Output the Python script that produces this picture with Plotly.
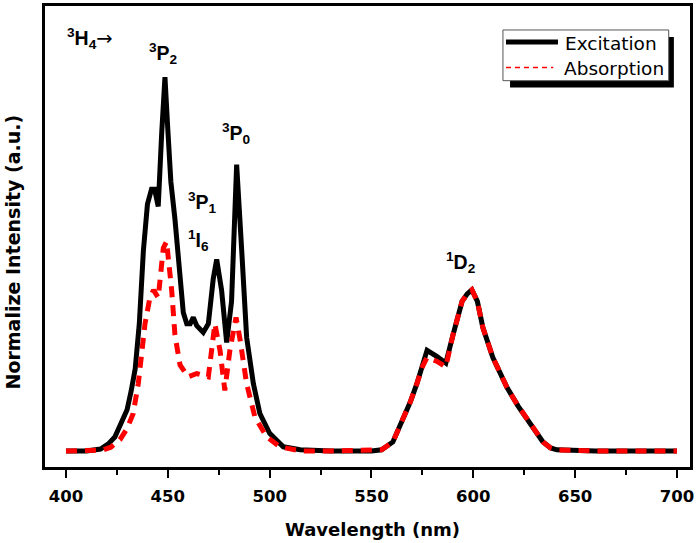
import plotly.graph_objects as go

# ---- data ----
wl_exc = [400, 410, 417, 421, 424, 427, 430, 432, 434, 436, 438, 440, 442, 443.5, 445.3, 447, 448.6, 450,
          451.5, 453.5, 456, 457.6, 459.3, 461, 462.5, 464.2, 467.4, 469.9, 472.3, 474, 476.4, 478.9, 481.3,
          483.8, 486.3, 488.7, 492, 495.2, 500, 506.7, 515, 530, 550, 555, 560.5, 565.4, 569, 572.3, 575,
          576.2, 577.3, 582, 586.5, 590, 594.5, 597, 599.3, 602, 604.7, 609.6, 616.5, 622, 627.8, 631, 634.2,
          638, 641, 660, 680, 700]
excitation = [0, 0, 0.005, 0.02, 0.037, 0.07, 0.11, 0.16, 0.22, 0.34, 0.535, 0.66, 0.70, 0.70, 0.654, 0.85,
              1.0, 0.86, 0.72, 0.62, 0.46, 0.37, 0.34, 0.34, 0.357, 0.335, 0.317, 0.34, 0.46, 0.512, 0.43,
              0.29, 0.40, 0.766, 0.535, 0.304, 0.18, 0.10, 0.047, 0.011, 0.003, 0.0, 0.0, 0.003, 0.024, 0.082,
              0.13, 0.18, 0.225, 0.242, 0.269, 0.253, 0.235, 0.31, 0.40, 0.42, 0.431, 0.40, 0.33, 0.25, 0.17,
              0.12, 0.075, 0.05, 0.024, 0.008, 0.003, 0, 0, 0]

wl_abs = [400, 410, 418, 422, 426.5, 430, 433, 435.5, 437.2, 438.8, 441.2, 443, 445.3, 447.8, 449.4, 451,
          451.9, 453.5, 456, 460, 464.2, 469.9, 473.1, 475.6, 478, 480.5, 483.5, 485.4, 488.7, 492.8, 498.5,
          505, 515, 530, 550, 555, 560.5, 565.4, 569, 572.3, 575, 577.3, 582, 586.5, 590, 594.5, 597, 599.3,
          602, 604.7, 609.6, 616.5, 622, 627.8, 631, 634.2, 638, 641, 660, 680, 700]
absorption = [0, 0, 0.002, 0.01, 0.03, 0.06, 0.10, 0.18, 0.27, 0.34, 0.41, 0.43, 0.41, 0.543, 0.56, 0.48,
              0.43, 0.31, 0.23, 0.198, 0.207, 0.198, 0.34, 0.27, 0.162, 0.27, 0.357, 0.30, 0.18, 0.09, 0.038,
              0.011, 0, 0, 0, 0.003, 0.024, 0.082, 0.13, 0.18, 0.225, 0.25, 0.24, 0.225, 0.31, 0.40, 0.42,
              0.431, 0.40, 0.33, 0.25, 0.17, 0.12, 0.075, 0.05, 0.024, 0.008, 0.003, 0, 0, 0]

series_names = ["Excitation", "Absorption"]
tick_vals = [400, 450, 500, 550, 600, 650, 700]

ARROW = "<span style='font-family:DejaVu Sans'>→</span>"
labels = [
    ("<b><sup>3</sup>H<sub>4</sub></b>" + ARROW, 399.5, 1.104, "left"),
    ("<b><sup>3</sup>P<sub>2</sub></b>", 448.1, 1.064, "center"),
    ("<b><sup>3</sup>P<sub>0</sub></b>", 483.9, 0.848, "center"),
    ("<b><sup>3</sup>P<sub>1</sub></b>", 466.8, 0.665, "center"),
    ("<b><sup>1</sup>I<sub>6</sub></b>", 465.3, 0.564, "center"),
    ("<b><sup>1</sup>D<sub>2</sub></b>", 593.9, 0.503, "center"),
]

FONT = "Arial, Liberation Sans, sans-serif"
WFONT = "DejaVu Sans"

fig = go.Figure()
fig.add_trace(go.Scatter(x=wl_exc, y=excitation, mode="lines", name=series_names[0],
                         line=dict(color="black", width=5), showlegend=False))
fig.add_trace(go.Scatter(x=wl_abs, y=absorption, mode="lines", name=series_names[1],
                         line=dict(color="#ff0000", width=5, dash="11px,8px"), showlegend=False))

for txt, x, y, anc in labels:
    fig.add_annotation(x=x, y=y, xref="x", yref="y", text=txt, showarrow=False,
                       xanchor=anc, yanchor="middle", font=dict(family=FONT, size=19.5, color="black"))

# manual legend (paper coords)
fig.add_shape(type="rect", xref="paper", yref="paper", x0=0.721, x1=0.975, y0=0.823, y1=0.933,
              fillcolor="black", line=dict(width=0))
fig.add_shape(type="rect", xref="paper", yref="paper", x0=0.710, x1=0.967, y0=0.838, y1=0.948,
              fillcolor="white", line=dict(color="#555555", width=1))
fig.add_shape(type="line", xref="paper", yref="paper", x0=0.7147, x1=0.7953, y0=0.922, y1=0.922,
              line=dict(color="black", width=5))
fig.add_shape(type="line", xref="paper", yref="paper", x0=0.7147, x1=0.788, y0=0.8665, y1=0.8665,
              line=dict(color="#ff0000", width=1.5, dash="5px,4px"))
fig.add_annotation(x=0.803, y=0.919, xref="paper", yref="paper", text=series_names[0], showarrow=False,
                   xanchor="left", yanchor="middle", font=dict(family=WFONT, size=18.5, color="black"))
fig.add_annotation(x=0.8016, y=0.864, xref="paper", yref="paper", text=series_names[1], showarrow=False,
                   xanchor="left", yanchor="middle", font=dict(family=WFONT, size=18.5, color="black"))

# axis titles
fig.add_annotation(x=0.5, y=0, xref="paper", yref="paper", xshift=5, yshift=-62,
                   text="<b>Wavelength (nm)</b>",
                   showarrow=False, xanchor="center", yanchor="middle",
                   font=dict(family=WFONT, size=18, color="black"))
fig.add_annotation(x=0, y=0.5, xref="paper", yref="paper", xshift=-33, yshift=-16,
                   text="<b>Normalize Intensity (a.u.)</b>",
                   showarrow=False, textangle=-90, xanchor="center", yanchor="middle",
                   font=dict(family=WFONT, size=19, color="black"))

fig.update_layout(
    width=700, height=543,
    margin=dict(l=45, r=10, t=3, b=76),
    paper_bgcolor="white", plot_bgcolor="white",
    showlegend=False,
    font=dict(family=FONT, size=17, color="black"),
)
fig.update_xaxes(range=[389.7, 706.4], tickvals=tick_vals, ticktext=[f"<b>{v}</b>" for v in tick_vals],
                 ticks="outside", ticklen=8, tickwidth=2, tickcolor="black", ticklabelstandoff=4,
                 minor=dict(dtick=25, tick0=400, ticks="outside", ticklen=5, tickwidth=2, tickcolor="black"),
                 showline=True, linewidth=2.5, linecolor="black", mirror=True,
                 showgrid=False, zeroline=False, tickfont=dict(family=WFONT, size=16.5, color="black"))
fig.update_yaxes(range=[-0.043, 1.19], showticklabels=False, ticks="",
                 showline=True, linewidth=2.5, linecolor="black", mirror=True,
                 showgrid=False, zeroline=False)

fig.write_html("out.html", post_script="document.body.style.margin='0';",
               config={"displayModeBar": False})
